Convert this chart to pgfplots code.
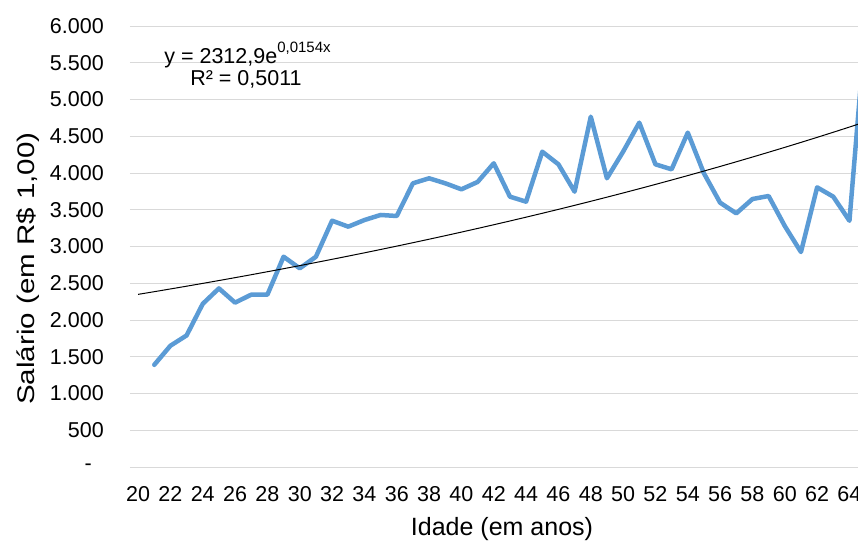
\documentclass[border=0pt]{standalone}
\usepackage{fontspec}
\setmainfont{Liberation Sans}
\usepackage{pgfplots}
\pgfplotsset{compat=1.18}
\definecolor{serie}{HTML}{5B9BD5}
\definecolor{grade}{HTML}{D9D9D9}
\begin{document}
\begin{tikzpicture}
\begin{axis}[
  at={(0,0)}, anchor=south west,
  scale only axis, width=728pt, height=441pt,
  xmin=19.5, xmax=64.53, ymin=0, ymax=6000,
  axis line style={draw=none},
  major tick length=0pt,
  xtick={20,22,...,64},
  xticklabels={20,22,24,26,28,30,32,34,36,38,40,42,44,46,48,50,52,54,56,58,60,62,64},
  ytick={0,500,...,6000},
  yticklabels={{-\kern12pt},500,1.000,1.500,2.000,2.500,3.000,3.500,4.000,4.500,5.000,5.500,6.000},
  ymajorgrids, grid style={grade, line width=1pt},
  tick label style={font=\fontsize{21.5}{25}\selectfont},
  yticklabel style={anchor=east, inner sep=0pt, xshift=-26pt},
  xticklabel style={anchor=north, inner sep=0pt, yshift=-19.5pt},
  xlabel={Idade (em anos)},
  ylabel={\scalebox{1.23}[1]{Salário (em R\$ 1,00)}},
  label style={font=\fontsize{24}{28}\selectfont},
  xlabel style={at={(rel axis cs:0.511,-0.1542)}, anchor=base, font=\fontsize{25}{29}\selectfont},
  ylabel style={at={(rel axis cs:-0.1305,0.45)}, anchor=base},
]
\addplot[serie, line width=4.5pt, line join=round, line cap=round] coordinates {
(21,1390) (22,1650) (23,1790) (24,2220) (25,2430) (26,2236) (27,2345) (28,2345)
(29,2861) (30,2703) (31,2861) (32,3351) (33,3270) (34,3360) (35,3429) (36,3415)
(37,3860) (38,3928) (39,3860) (40,3778) (41,3878) (42,4132) (43,3678) (44,3610)
(45,4290) (46,4118) (47,3746) (48,4766) (49,3928) (50,4290) (51,4685) (52,4118)
(53,4050) (54,4549) (55,3995) (56,3596) (57,3451) (58,3646) (59,3687) (60,3279)
(61,2925) (62,3805) (63,3678) (64,3350) (65,6000)
};
\addplot[black, line width=1pt] coordinates {
(20,2348.8) (21,2385.2) (22,2422.3) (23,2459.9) (24,2498.0) (25,2536.8) (26,2576.2)
(27,2616.1) (28,2656.8) (29,2698.0) (30,2739.9) (31,2782.4) (32,2825.6) (33,2869.4)
(34,2913.9) (35,2959.2) (36,3005.1) (37,3051.7) (38,3099.1) (39,3147.2) (40,3196.0)
(41,3245.6) (42,3296.0) (43,3347.1) (44,3399.1) (45,3451.8) (46,3505.4) (47,3559.8)
(48,3615.1) (49,3671.2) (50,3728.1) (51,3786.0) (52,3844.7) (53,3904.4) (54,3965.0)
(55,4026.5) (56,4089.0) (57,4152.5) (58,4216.9) (59,4282.4) (60,4348.8) (61,4416.3)
(62,4484.8) (63,4554.4) (64,4625.1) (65,4696.9)
};
\node[anchor=base, font=\fontsize{21.5}{25}\selectfont, inner sep=0pt] at (rel axis cs:0.1614,0.9154)
  {y = 2312,9e\raisebox{11pt}{\fontsize{15}{17}\selectfont 0,0154x}};
\node[anchor=base, font=\fontsize{21.5}{25}\selectfont, inner sep=0pt] at (rel axis cs:0.1593,0.8662)
  {R² = 0,5011};
\end{axis}
\pgfresetboundingbox
\useasboundingbox (-130pt,-73pt) rectangle (728pt,467pt);
\end{tikzpicture}
\end{document}
